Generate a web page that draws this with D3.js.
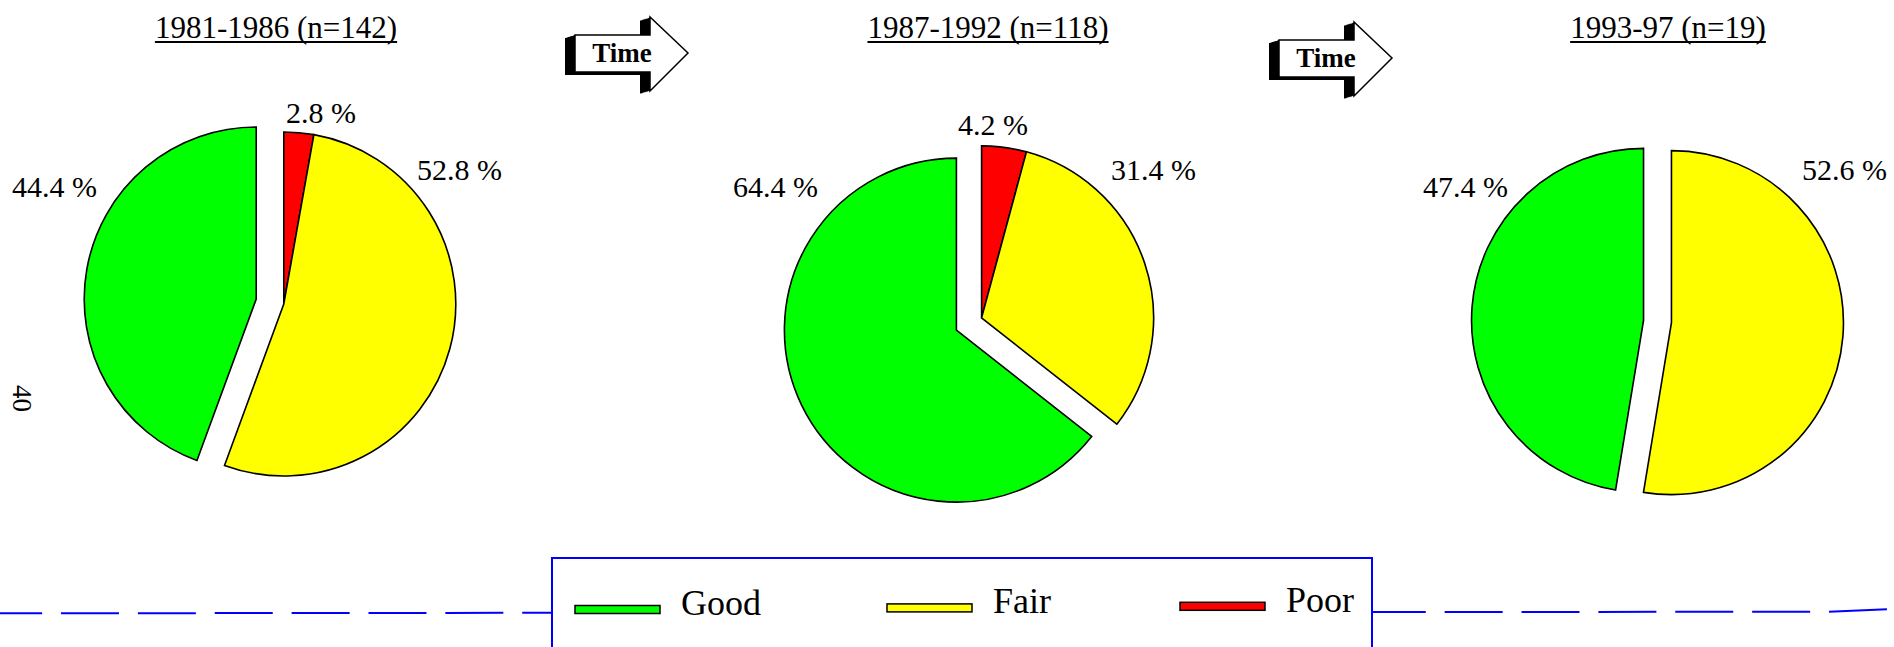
<!DOCTYPE html>
<html>
<head>
<meta charset="utf-8">
<script src="https://cdn.jsdelivr.net/npm/d3@7"></script>
<style>
  body { margin: 0; background: #fff; }
  svg { display: block; }
  text { font-family: "Liberation Serif", "Times New Roman", serif; fill: #000; }
</style>
</head>
<body>
<svg id="chart" width="1894" height="647"></svg>
<script>
// data
var periods = ["1981-1986 (n=142)", "1987-1992 (n=118)", "1993-97 (n=19)"];
var categories = ["Good", "Fair", "Poor"];
var good = [44.4, 64.4, 47.4];
var fair = [52.8, 31.4, 52.6];
var poor = [2.8, 4.2, 0];
var colours = {Good: "#00ff00", Fair: "#ffff00", Poor: "#ff0000"};

// layout
var W = 1894, H = 647,
    radius = 172,
    explode = 14,
    centers = [[270, 301.5], [969, 324], [1657.5, 321.5]],
    titleX = [276, 988, 1668],
    // label anchor offsets from pie centre, per slice
    labelOff = [
      {Good: [-173, -104.5], Fair: [147, -121.5], Poor: [16, -178.5]},
      {Good: [-151, -127], Fair: [142, -144], Poor: [-11, -189]},
      {Good: [-149.5, -124.5], Fair: [144.5, -141.5], Poor: [0, -180]}
    ],
    arrows = [[575, 17], [1279, 22]],
    legendX = [575, 887, 1180];

var svg = d3.select("#chart");

// dashed baseline behind the legend
svg.append("path")
  .attr("d", d3.line()([[0, 613.3], [1829, 611.7], [1890, 609]]))
  .attr("fill", "none")
  .attr("stroke", "#0000ff")
  .attr("stroke-width", 2)
  .attr("stroke-dasharray", "58,18.87")
  .attr("stroke-dashoffset", 15.87);

//Titles
periods.forEach(function(p, i) {
  var t = svg.append("text")
    .attr("x", titleX[i])
    .attr("y", 38)
    .attr("text-anchor", "middle")
    .style("font-size", "31px")
    .text(p);
  var w = t.node().getComputedTextLength();
  svg.append("line")
    .attr("x1", titleX[i] - w/2).attr("x2", titleX[i] + w/2)
    .attr("y1", 42).attr("y2", 42)
    .attr("stroke", "#000").attr("stroke-width", 2);
});

//Pies
var pie = d3.pie().sort(null).value(function(d) { return d.v; });
var arc = d3.arc().innerRadius(0).outerRadius(radius);

periods.forEach(function(p, i) {
  // clockwise from 12 o'clock: Poor, Fair, Good
  var slices = pie([
    {k: "Poor", v: poor[i]},
    {k: "Fair", v: fair[i]},
    {k: "Good", v: good[i]}
  ]);
  var g = slices.filter(function(s) { return s.data.k == "Good"; })[0];
  var m = (g.startAngle + g.endAngle) / 2;
  var ox = explode * Math.sin(m), oy = -explode * Math.cos(m);

  var pg = svg.append("g")
    .attr("transform", "translate(" + centers[i][0] + "," + centers[i][1] + ")");

  pg.selectAll("path")
    .data(slices.filter(function(s) { return s.data.v > 0; }))
    .enter()
    .append("path")
    .attr("d", arc)
    .attr("transform", function(s) {
      return s.data.k == "Good" ? "translate(" + ox + "," + oy + ")"
                                : "translate(" + (-ox) + "," + (-oy) + ")";
    })
    .attr("fill", function(s) { return colours[s.data.k]; })
    .attr("stroke", "#000")
    .attr("stroke-width", 1.6)
    .attr("stroke-linejoin", "miter");

  pg.selectAll("text")
    .data(slices.filter(function(s) { return s.data.v > 0; }))
    .enter()
    .append("text")
    .attr("x", function(s) { return labelOff[i][s.data.k][0]; })
    .attr("y", function(s) { return labelOff[i][s.data.k][1]; })
    .attr("text-anchor", function(s) { return s.data.k == "Good" ? "end" : "start"; })
    .style("font-size", "30px")
    .text(function(s) { return d3.format(".1f")(s.data.v) + " %"; });
});

//Time arrows (3D look: stacked black copies then white face)
var arrowPts = [[0, 18], [75, 18], [75, 0], [113, 36], [75, 74], [75, 55], [0, 55]];
arrows.forEach(function(a) {
  var ag = svg.append("g").attr("transform", "translate(" + a[0] + "," + a[1] + ")");
  for (var t = 10; t >= 1; t--) {
    ag.append("polygon")
      .attr("points", arrowPts.map(function(q) { return [q[0] - t, q[1] + 0.3*t].join(","); }).join(" "))
      .attr("fill", "#000");
  }
  ag.append("polygon")
    .attr("points", arrowPts.map(function(q) { return q.join(","); }).join(" "))
    .attr("fill", "#fff")
    .attr("stroke", "#000")
    .attr("stroke-width", 1.5);
  ag.append("text")
    .attr("x", 47).attr("y", 45)
    .attr("text-anchor", "middle")
    .style("font-size", "27px")
    .style("font-weight", "bold")
    .text("Time");
});

//Legend
svg.append("rect")
  .attr("x", 552).attr("y", 558)
  .attr("width", 820).attr("height", 130)
  .attr("fill", "#fff")
  .attr("stroke", "#0000ff")
  .attr("stroke-width", 2);

categories.forEach(function(c, j) {
  var y = 614 - j*1.6;
  svg.append("rect")
    .attr("x", legendX[j]).attr("y", y - 8.5)
    .attr("width", 85).attr("height", 8)
    .attr("fill", colours[c])
    .attr("stroke", "#000")
    .attr("stroke-width", 1.5);
  svg.append("text")
    .attr("x", legendX[j] + 106)
    .attr("y", y + 1)
    .style("font-size", "36px")
    .text(c);
});

// stray axis number on the left
svg.append("text")
  .attr("transform", "translate(13,385) rotate(90)")
  .style("font-size", "27px")
  .text("40");
</script>
</body>
</html>
